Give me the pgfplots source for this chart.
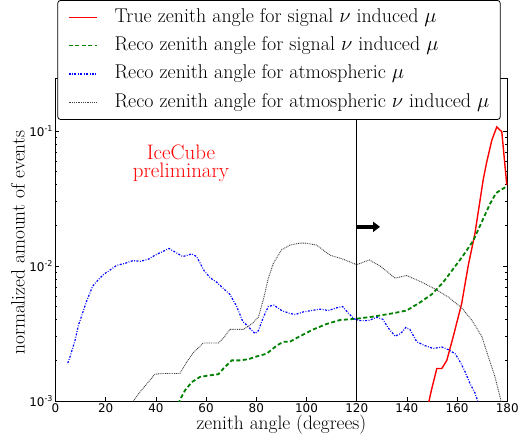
\documentclass[border=0pt]{standalone}
\usepackage{fontspec}
\usepackage{pgfplots}
\pgfplotsset{compat=1.18}
\usetikzlibrary{arrows.meta}
\newfontfamily\dejavu{DejaVu Sans}
\definecolor{mplgreen}{rgb}{0,0.5,0}
\newcommand\gd{\rule[4.1bp]{4bp}{1.8bp}\kern2.5bp}
\newcommand\bd{\rule[4.4bp]{2bp}{1.2bp}\kern1.5bp\rule[4.4bp]{0.8bp}{1.2bp}\kern1.5bp}
\newcommand\kd{\rule[4.5bp]{0.9bp}{0.9bp}\kern0.9bp}
\begin{document}
\begin{tikzpicture}
\useasboundingbox (-55.5bp,-37bp) rectangle (471.5bp,401bp);
\begin{axis}[
  at={(0,0)}, anchor=south west,
  scale only axis, width=451.8bp, height=323bp,
  ymode=log, xmin=0, xmax=180, ymin=1e-3, ymax=0.247,
  xtick={0,20,...,180},
  ytick={1e-3,1e-2,1e-1},
  yticklabels={10\textsuperscript{-3},10\textsuperscript{-2},10\textsuperscript{-1}},
  tick align=inside, major tick length=4bp, minor tick length=2bp,
  xtick pos=both, ytick pos=both,
  tick style={black, line width=0.5bp},
  /pgf/number format/assume math mode=true,
  ticklabel style={font=\dejavu\fontsize{12}{14}\selectfont},
  xticklabel style={yshift=1bp},
  yticklabel style={xshift=1bp},
  axis line style={line width=0.9bp},
  xlabel={zenith angle (degrees)},
  ylabel={normalized amount of events},
  label style={font=\fontsize{19.5}{22}\selectfont},
  xlabel style={at={(axis description cs:0.5,-0.073)}, anchor=center},
  ylabel style={at={(axis description cs:-0.083,0.49)}, anchor=center},
]
\addplot[red, line width=1.4bp] coordinates {
(148.5,0.0009) (148.9,0.00102) (149.9,0.00123) (151.9,0.00174) (153.9,0.00174)
(155.9,0.00200) (158.5,0.00302) (161.8,0.00525) (164.5,0.01023) (167.1,0.01738)
(170.4,0.04365) (171.8,0.05888) (173.8,0.08511) (175.8,0.10715) (177.8,0.09886) (179.8,0.03981)
};
\addplot[color=mplgreen, line width=1.8bp, dash pattern=on 4bp off 2.5bp] coordinates {
(49,0.00095) (49.6,0.00102) (51.6,0.00120) (54.3,0.00138) (57.6,0.00151) (61.6,0.00155)
(64.9,0.00158) (66.9,0.00174) (70.2,0.00200) (73.5,0.00200) (76.8,0.00204) (80.2,0.00214)
(84.1,0.00224) (88.1,0.00257) (90.8,0.00275) (93.4,0.00275) (97.4,0.00302) (102.7,0.00339)
(108,0.00372) (113.3,0.00398) (120,0.00407) (126.6,0.00422) (134.6,0.00447) (139.9,0.00468)
(145.2,0.00537) (149.9,0.00617) (154.5,0.00759) (158.5,0.00955) (162.5,0.01202) (166.5,0.01549)
(170.4,0.02239) (173.1,0.02884) (175.5,0.03467) (177.1,0.03631) (179.8,0.03890)
};
\addplot[color=blue, line width=1.2bp, dash pattern=on 2bp off 1.5bp on 0.8bp off 1.5bp] coordinates {
(4.9,0.00191) (6,0.00219) (7.8,0.00282) (9.1,0.00363) (10.4,0.00427) (12.4,0.00550)
(14.8,0.00708) (17.1,0.00794) (19.3,0.00871) (21.7,0.00933) (24.4,0.01012) (27.7,0.01047)
(30.8,0.01096) (33.9,0.01084) (37,0.01122) (39.6,0.01202) (43,0.01288) (45.2,0.01349)
(48,0.01259) (50.7,0.01175) (54.3,0.01230) (56.2,0.01175) (59.2,0.00923) (61.8,0.00813)
(64.2,0.00759) (67.1,0.00676) (69.5,0.00617) (72.2,0.00501) (74.6,0.00389) (76.8,0.00355)
(79.5,0.00316) (80.8,0.00331) (82.8,0.00417) (84.8,0.00501) (87,0.00513) (90.1,0.00468)
(93.1,0.00447) (95.6,0.00437) (98.7,0.00457) (102,0.00468) (105.4,0.00479) (108.7,0.00468)
(112,0.00490) (114.4,0.00501) (116.7,0.00447) (118.9,0.00407) (121.3,0.00394) (124.6,0.00394)
(128,0.00417) (130.4,0.00403) (132.6,0.00347) (135.3,0.00302) (137.5,0.00316) (139.6,0.00351)
(141.2,0.00339) (143.9,0.00275) (147.2,0.00257) (150.5,0.00245) (153.9,0.00251) (156.5,0.00240)
(159.2,0.00224) (161.2,0.00195) (163.1,0.00166) (165.1,0.00135) (167.1,0.00115) (169,0.0009)
};
\addplot[color=black!75, line width=0.9bp, dash pattern=on 0.9bp off 0.9bp] coordinates {
(30,0.00095) (31,0.00100) (33.7,0.00117) (37,0.00138) (39.6,0.00158) (43,0.00160) (49.6,0.00160)
(52.3,0.00195) (55,0.00229) (58.9,0.00269) (64.9,0.00269) (66.9,0.00292) (69.5,0.00339)
(74.8,0.00339) (78.2,0.00372) (80.8,0.00417) (82.8,0.00562) (84.8,0.00813) (86.8,0.01047)
(90.1,0.01318) (93.4,0.01429) (97.4,0.01479) (99.4,0.01479) (104,0.01429) (109.4,0.01202)
(114.7,0.01122) (120,0.01023) (125,0.01109) (129.3,0.01000) (135.3,0.00813) (139.9,0.00851)
(145.9,0.00759) (151.2,0.00676) (156.5,0.00589) (161.8,0.00490) (165.8,0.00398) (169.8,0.00302)
(172.4,0.00214) (175.1,0.00151) (177.4,0.00102) (178,0.0009)
};
\draw[black, line width=1.3bp] (axis cs:120,1e-3) -- (axis cs:120,0.247);
\draw[black, line width=3.5bp, -{Triangle[length=7bp,width=10bp]}] (axis cs:120,0.0195) -- (axis cs:129.3,0.0195);
\node[red, font=\fontsize{21}{18}\selectfont, align=center] at (axis cs:50,0.058) {IceCube\\preliminary};
\coordinate (legpos) at (axis description cs:0.4947,1.2415);
\end{axis}
\node[draw=black, rounded corners=3bp, line width=0.8bp, fill=white, anchor=north,
      inner xsep=11bp, inner ysep=5bp, font=\fontsize{20}{24}\selectfont] at (legpos) {%
\begin{tabular}{@{}l@{\hspace{18bp}}l@{}}
{\color{red}\rule[4.2bp]{28bp}{1.4bp}} & True zenith angle for signal $\nu$ induced $\mu$\\[4.5bp]
{\color{mplgreen}\gd\gd\gd\gd\rule[4.1bp]{2bp}{1.8bp}} & Reco zenith angle for signal $\nu$ induced $\mu$\\[4.5bp]
{\color{blue}\bd\bd\bd\bd\rule[4.4bp]{2bp}{1.2bp}\kern1.5bp\rule[4.4bp]{0.8bp}{1.2bp}} & Reco zenith angle for atmospheric $\mu$\\[4.5bp]
{\color{black!75}\kd\kd\kd\kd\kd\kd\kd\kd\kd\kd\kd\kd\kd\kd\kd\rule[4.5bp]{0.9bp}{0.9bp}} & Reco zenith angle for atmospheric $\nu$ induced $\mu$
\end{tabular}};
\end{tikzpicture}
\end{document}
